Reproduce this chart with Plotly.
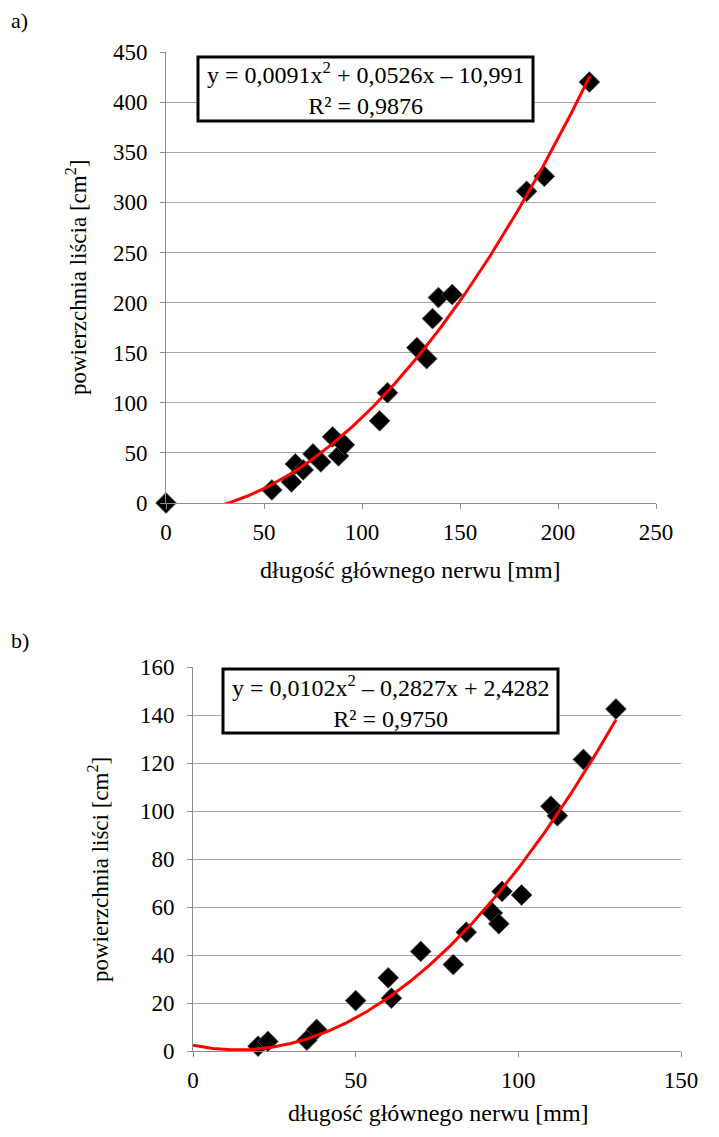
import numpy as np
import plotly.graph_objects as go

# ---- data chart a ----
xa = [0, 54, 64, 66, 70, 75, 79, 85, 88, 91, 109, 113, 128, 133, 136, 139, 146, 184, 193, 216]
ya = [0, 13, 21, 39, 33, 49, 41, 66, 47, 58, 82, 110, 155, 144, 184, 205, 208, 311, 326, 420]
coef_a = [0.0091, 0.0526, -10.991]
eq_a = "y = 0,0091x<sup>2</sup> + 0,0526x – 10,991<br>R² = 0,9876"

# ---- data chart b ----
xb = [20, 23, 35, 38, 50, 60, 61, 70, 80, 84, 92, 94, 95, 101, 110, 112, 120, 130]
yb = [2, 4, 4.5, 9, 21, 30.5, 22, 41.5, 36, 49.5, 57.5, 53, 66.5, 65, 102, 98, 121.5, 142.5]
coef_b = [0.0102, -0.2827, 2.4282]
eq_b = "y = 0,0102x<sup>2</sup> – 0,2827x + 2,4282<br>R² = 0,9750"

x_title = "długość głównego nerwu [mm]"
y_title_a = "powierzchnia liścia [cm<sup>2</sup>]"
y_title_b = "powierzchnia liści [cm<sup>2</sup>]"

W, H = 719, 1137
FONT = "Liberation Serif, Times New Roman, serif"

def px(x):
    return x / W

def py(y):
    return 1 - y / H

fig = go.Figure()

def add_panel(xs, ys, coef, xmax_fit, xa_name, ya_name):
    fig.add_trace(go.Scatter(
        x=xs, y=ys, mode="markers", xaxis=xa_name, yaxis=ya_name,
        marker=dict(symbol="diamond", size=16, color="black",
                    line=dict(color="#555555", width=0.8)),
        showlegend=False, hoverinfo="skip", cliponaxis=False))
    xf = np.linspace(0, xmax_fit, 300)
    yf = coef[0] * xf ** 2 + coef[1] * xf + coef[2]
    fig.add_trace(go.Scatter(
        x=xf, y=yf, mode="lines", xaxis=xa_name, yaxis=ya_name,
        line=dict(color="#ff0000", width=3),
        showlegend=False, hoverinfo="skip"))

add_panel(xa, ya, coef_a, max(xa) + 0.3, "x", "y")
add_panel(xb, yb, coef_b, max(xb), "x2", "y2")

axis_common = dict(
    showline=True, linecolor="#8c8c8c", linewidth=1,
    ticks="outside", tickcolor="#8c8c8c", ticklen=5,
    tickfont=dict(family=FONT, size=23, color="black"),
    zeroline=False, fixedrange=True, automargin=False,
)

fig.update_layout(
    width=W, height=H,
    margin=dict(l=0, r=0, t=0, b=0),
    paper_bgcolor="white", plot_bgcolor="white",
    font=dict(family=FONT, color="black"),
    xaxis=dict(domain=[px(166), px(656)], range=[0, 250], dtick=50,
               showgrid=False, anchor="y", ticklabelstandoff=3, **axis_common),
    yaxis=dict(domain=[py(503), py(52)], range=[0, 450], dtick=50,
               showgrid=True, gridcolor="#a6a6a6", gridwidth=1, anchor="x",
               ticklabelstandoff=8, **axis_common),
    xaxis2=dict(domain=[px(193), px(681)], range=[0, 150], dtick=50,
                showgrid=False, anchor="y2", ticklabelstandoff=3, **axis_common),
    yaxis2=dict(domain=[py(1051), py(667)], range=[0, 160], dtick=20,
                showgrid=True, gridcolor="#a6a6a6", gridwidth=1, anchor="x2",
                ticklabelstandoff=8, **axis_common),
)

def label(text, x, y, size, angle=0):
    fig.add_annotation(xref="paper", yref="paper", x=px(x), y=py(y), text=text,
                       showarrow=False, xanchor="center", yanchor="middle",
                       textangle=angle,
                       font=dict(family=FONT, size=size, color="black"))

label(x_title, 410, 570, 24)
label(y_title_a, 76, 278, 23, -90)
label(x_title, 438, 1113, 24)
label(y_title_b, 98, 870, 23, -90)

def eq_box(text, x0, y0, x1, y1):
    fig.add_shape(type="rect", xref="paper", yref="paper",
                  x0=px(x0), x1=px(x1), y0=py(y1), y1=py(y0),
                  line=dict(color="black", width=3), fillcolor="white", layer="above")
    fig.add_annotation(xref="paper", yref="paper", x=px((x0 + x1) / 2), y=py((y0 + y1) / 2),
                       text=text, showarrow=False, align="center",
                       xanchor="center", yanchor="middle",
                       font=dict(family=FONT, size=24, color="black"))

eq_box(eq_a, 198, 57, 533, 121)
eq_box(eq_b, 223, 669, 558, 733)

fig.add_annotation(xref="paper", yref="paper", x=px(9), y=py(20), text="a)",
                   showarrow=False, xanchor="left", yanchor="middle",
                   font=dict(family=FONT, size=22, color="black"))
fig.add_annotation(xref="paper", yref="paper", x=px(9), y=py(640), text="b)",
                   showarrow=False, xanchor="left", yanchor="middle",
                   font=dict(family=FONT, size=22, color="black"))

fig.write_html("out.html")
